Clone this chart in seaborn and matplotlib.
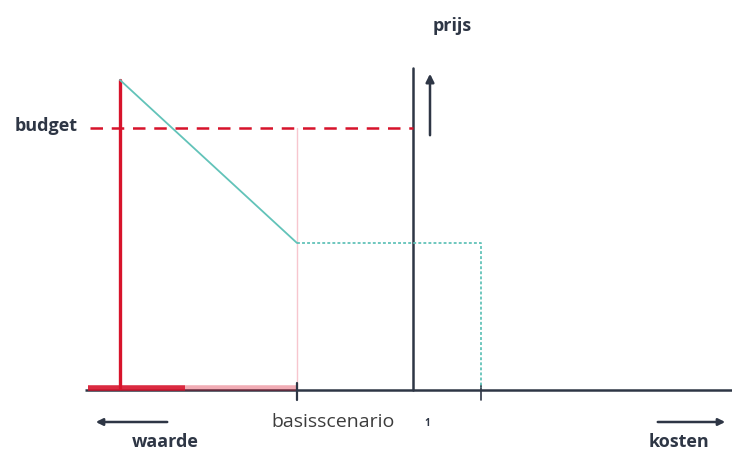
import matplotlib
matplotlib.use("Agg")
import matplotlib.pyplot as plt
import pandas as pd
import seaborn as sns

# schematic values (x = kosten-as, y = prijs boven de as)
waarde_x = 120          # rode verticale lijn
waarde_top = 308
budget_y = 260
basis_x = 297           # basisscenario
prijs_x = 413           # verticale as "prijs"
prijs_top = 320
eind_x = 481            # einde teal-lijn
plateau_y = 145

teal_x_solid = [waarde_x, basis_x]
teal_y_solid = [waarde_top, plateau_y]
teal_x_dot = [basis_x, eind_x, eind_x]
teal_y_dot = [plateau_y, plateau_y, 0]

sns.set_style("white")
plt.rcParams['font.family'] = ['Open Sans', 'DejaVu Sans']

navy = "#2e3645"
red = "#d7132b"
teal = "#62c3b9"

fig = plt.figure(figsize=(7.32, 4.5), dpi=100)
ax = fig.add_axes([0, 0, 1, 1])
ax.set_xlim(0, 732)
ax.set_ylim(-62, 388)
ax.axis("off")

# horizontale as
ax.plot([85, 732], [-2, -2], color=navy, lw=1.8, solid_capstyle="butt", zorder=3)
# rode balk langs de as
ax.plot([88, 185], [0, 0], color=red, lw=4, alpha=0.9, solid_capstyle="butt", zorder=4)
ax.plot([185, basis_x], [0, 0], color=red, lw=4, alpha=0.35, solid_capstyle="butt", zorder=4)
# tick marks
ax.plot([basis_x, basis_x], [5, -12], color=navy, lw=1.6, zorder=5)
ax.plot([eind_x, eind_x], [3, -12], color=navy, lw=1.2, zorder=5)

# verticale prijs-as en pijl
ax.plot([prijs_x, prijs_x], [-2, prijs_top], color=navy, lw=1.8, zorder=3)
ax.annotate("", xy=(430, 317), xytext=(430, 250),
            arrowprops=dict(arrowstyle="-|>", color=navy, lw=1.8, mutation_scale=12))

# rode verticale lijn
ax.plot([waarde_x, waarde_x], [0, waarde_top], color=red, lw=2.4, zorder=4)
# budget lijn
ax.plot([90, prijs_x], [budget_y, budget_y], color=red, lw=1.8,
        dashes=(5, 3.5), zorder=4)
# lichtroze lijn bij basisscenario
ax.plot([basis_x, basis_x], [0, budget_y], color="#f7c6ce", lw=1.0, zorder=2)

# teal lijnen
sns.lineplot(x=teal_x_solid, y=teal_y_solid, sort=False, estimator=None,
             color=teal, lw=1.3, ax=ax, zorder=5)
sns.lineplot(x=teal_x_dot, y=teal_y_dot, sort=False, estimator=None,
             color=teal, lw=1.3, ax=ax, zorder=5)
ax.lines[-1].set_dashes((1.6, 1.2))

# pijlen onderaan
ax.annotate("", xy=(93, -34), xytext=(170, -34),
            arrowprops=dict(arrowstyle="-|>", color=navy, lw=1.8, mutation_scale=10))
ax.annotate("", xy=(728, -34), xytext=(655, -34),
            arrowprops=dict(arrowstyle="-|>", color=navy, lw=1.8, mutation_scale=10))

# teksten
ax.text(46, budget_y + 2, "budget", ha="center", va="center", fontsize=13,
        fontweight="bold", color=navy)
ax.text(452, 362, "prijs", ha="center", va="center", fontsize=13,
        fontweight="bold", color=navy)
ax.text(165, -54, "waarde", ha="center", va="center", fontsize=13,
        fontweight="bold", color=navy)
ax.text(679, -54, "kosten", ha="center", va="center", fontsize=13,
        fontweight="bold", color=navy)
ax.text(333, -34, "basisscenario", ha="center", va="center", fontsize=14,
        color="#3c3c3c")
ax.text(427, -36, "1", ha="center", va="center", fontsize=7,
        fontweight="bold", color=navy)

fig.savefig("out.png", dpi=100)
